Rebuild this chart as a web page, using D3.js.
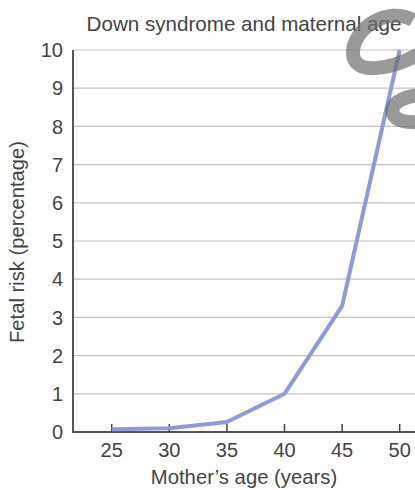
<!DOCTYPE html>
<html>
<head>
<meta charset="utf-8">
<script src="https://cdn.jsdelivr.net/npm/d3@7"></script>
<style>
  body { margin: 0; background: #fff; }
  text { font-family: "Liberation Sans", Arial, sans-serif; fill: #444; }
</style>
</head>
<body>
<svg id="chart"></svg>
<script>
// maternal age vs fetal risk of down syndrome
const ages = [25, 30, 35, 40, 45, 50];
const risk = [0.07, 0.1, 0.26, 1.0, 3.3, 10];
const yTicks = [0, 1, 2, 3, 4, 5, 6, 7, 8, 9, 10];

(function drawChart() {
  const width = 415, height = 490;
  const svg = d3.select("#chart").attr("width", width).attr("height", height);

  const plotLeft = 73, plotBottom = 432, plotTop = 50;

  const x = d3.scaleLinear().domain([25, 50]).range([111.7, 399.7]);
  const y = d3.scaleLinear().domain([0, 10]).range([plotBottom, plotTop]);

  // gridlines
  svg.append("g")
    .selectAll("line")
    .data(yTicks.filter((d) => d > 0))
    .join("line")
    .attr("x1", plotLeft)
    .attr("x2", width)
    .attr("y1", (d) => y(d))
    .attr("y2", (d) => y(d))
    .attr("stroke", "#c4c4c4")
    .attr("stroke-width", 1.2);

  // y tick labels
  svg.append("g")
    .selectAll("text")
    .data(yTicks)
    .join("text")
    .attr("x", 63)
    .attr("y", (d) => y(d))
    .attr("dy", "0.36em")
    .attr("text-anchor", "end")
    .style("font-size", "20px")
    .text((d) => d);

  // x axis, ticks pointing up
  const xAxis = svg.append("g").attr("transform", `translate(0,${plotBottom})`);
  xAxis.append("line")
    .attr("x1", plotLeft - 1)
    .attr("x2", width)
    .attr("stroke", "#555")
    .attr("stroke-width", 2);
  xAxis.selectAll(".tick")
    .data(ages)
    .join("line")
    .attr("class", "tick")
    .attr("x1", (d) => x(d))
    .attr("x2", (d) => x(d))
    .attr("y1", 0)
    .attr("y2", -8)
    .attr("stroke", "#444")
    .attr("stroke-width", 1.5);
  xAxis.selectAll("text")
    .data(ages)
    .join("text")
    .attr("x", (d) => x(d))
    .attr("y", 25)
    .attr("text-anchor", "middle")
    .style("font-size", "20px")
    .text((d) => d);

  // y axis line
  svg.append("line")
    .attr("x1", plotLeft)
    .attr("x2", plotLeft)
    .attr("y1", plotTop)
    .attr("y2", plotBottom)
    .attr("stroke", "#555")
    .attr("stroke-width", 2);

  // data line
  const line = d3.line()
    .x((d, i) => x(ages[i]))
    .y((d) => y(d));

  svg.append("path")
    .datum(risk)
    .attr("d", line)
    .attr("fill", "none")
    .attr("stroke", "#8f9bd7")
    .attr("stroke-width", 4)
    .attr("stroke-linejoin", "round");

  // titles
  svg.append("text")
    .attr("x", 244)
    .attr("y", 31)
    .attr("text-anchor", "middle")
    .style("font-size", "20.6px")
    .text("Down syndrome and maternal age");

  svg.append("text")
    .attr("x", 244)
    .attr("y", 484)
    .attr("text-anchor", "middle")
    .style("font-size", "20.3px")
    .text("Mother\u2019s age (years)");

  svg.append("text")
    .attr("transform", "translate(24,242) rotate(-90)")
    .attr("text-anchor", "middle")
    .style("font-size", "20.2px")
    .text("Fetal risk (percentage)");

  // grey logo fragment in the corner
  const logo = svg.append("g")
    .attr("fill", "none")
    .attr("stroke", "#6e6e6e")
    .attr("stroke-opacity", 0.7)
    .attr("stroke-width", 14);
  logo.append("path")
    .attr("d", "M413,20 C388,6 353,28 353,53 C353,75 388,71 419,54");
  logo.append("path")
    .attr("d", "M419,95 C402,97 389,104 393,114 C396,121 408,123 419,122");
})();
</script>
</body>
</html>
